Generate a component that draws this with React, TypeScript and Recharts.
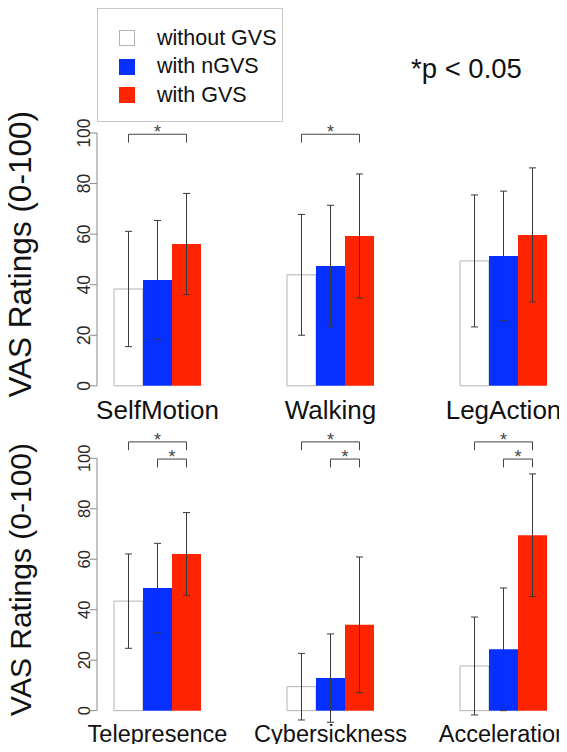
import React from "react";
import { BarChart, Bar, XAxis, YAxis, ErrorBar, Legend } from "recharts";

const FONT = "'Liberation Sans', Arial, Helvetica, sans-serif";

const seriesNames = ["without GVS", "with nGVS", "with GVS"];

// top panel
const topCategories = ["SelfMotion", "Walking", "LegAction"];
const topWithout = [38.3, 43.9, 49.4];
const topWithoutSd = [22.8, 23.9, 26.1];
const topNgvs = [41.9, 47.4, 51.4];
const topNgvsSd = [23.5, 24.0, 25.6];
const topGvs = [56.1, 59.3, 59.7];
const topGvsSd = [20.0, 24.5, 26.5];

// bottom panel
const bottomCategories = ["Telepresence", "Cybersickness", "Acceleration"];
const bottomWithout = [43.4, 9.5, 17.7];
const bottomWithoutSd = [18.7, 13.2, 19.4];
const bottomNgvs = [48.6, 12.9, 24.3];
const bottomNgvsSd = [17.7, 17.5, 24.3];
const bottomGvs = [62.1, 34.0, 69.5];
const bottomGvsSd = [16.4, 26.9, 24.3];

const yTicks = [0, 20, 40, 60, 80, 100];
const yDomain: [number, number] = [-6, 100];

type Bracket = { from: number; to: number; level: number };
// significance brackets per category (bar index 0 = without, 1 = nGVS, 2 = GVS)
const topBrackets: Bracket[][] = [
  [{ from: 0, to: 2, level: 99.5 }],
  [{ from: 0, to: 2, level: 99.5 }],
  [],
];
const bottomBrackets: Bracket[][] = [
  [{ from: 0, to: 2, level: 106.5 }, { from: 1, to: 2, level: 99.7 }],
  [{ from: 0, to: 2, level: 106.5 }, { from: 1, to: 2, level: 99.7 }],
  [{ from: 0, to: 2, level: 106.5 }, { from: 1, to: 2, level: 99.7 }],
];

const buildRows = (
  cats: string[],
  a: number[], aSd: number[],
  b: number[], bSd: number[],
  c: number[], cSd: number[]
) =>
  cats.map((name, i) => ({
    name,
    without: a[i], withoutSd: aSd[i],
    ngvs: b[i], ngvsSd: bSd[i],
    gvs: c[i], gvsSd: cSd[i],
  }));

const topRows = buildRows(topCategories, topWithout, topWithoutSd, topNgvs, topNgvsSd, topGvs, topGvsSd);
const bottomRows = buildRows(bottomCategories, bottomWithout, bottomWithoutSd, bottomNgvs, bottomNgvsSd, bottomGvs, bottomGvsSd);

const BLUE = "#0530ff";
const RED = "#ff2400";
const AXIS = "#8a8a8a";

// brackets are drawn from the GVS bar's own rectangle
const makeBracketLabel = (brackets: Bracket[][], values: number[]) => (props: any) => {
  const vb = props.viewBox && props.viewBox.width != null ? props.viewBox : props;
  const { x, y, width, height } = vb;
  const index = props.index;
  const list = brackets[index] || [];
  if (!list.length || !height) return null;
  const base = y + height;
  const unit = height / values[index];
  const cx = (k: number) => x + width / 2 - (2 - k) * width;
  return (
    <g>
      {list.map((b, j) => {
        const ly = base - b.level * unit;
        const drop = 3.3 * unit;
        const x1 = cx(b.from);
        const x2 = cx(b.to);
        return (
          <g key={j}>
            <path d={`M${x1},${ly + drop}V${ly}H${x2}V${ly + drop}`} fill="none" stroke="#444" strokeWidth={1} />
            <text x={(x1 + x2) / 2} y={ly + 4} textAnchor="middle" fontSize={18} fill="#444" fontFamily={FONT}>
              *
            </text>
          </g>
        );
      })}
    </g>
  );
};

const YTick = (props: any) => {
  const { x, y, payload, fontSize } = props;
  return (
    <text x={x} y={y} transform={`rotate(-90 ${x} ${y})`} textAnchor="middle" fontSize={fontSize} fill="#2a2a2a" fontFamily={FONT}>
      {payload.value}
    </text>
  );
};

const makeTitle = (fontSize: number) => (props: any) => {
  const vb = props.viewBox || {};
  const cy = vb.y + (vb.height * 48) / 106;
  const bx = 31;
  return (
    <text x={bx} y={cy} transform={`rotate(-90 ${bx} ${cy})`} textAnchor="middle" fontSize={fontSize} fill="#111" fontFamily={FONT}>
      VAS Ratings (0-100)
    </text>
  );
};

const LegendBox = (props: any) => {
  const payload = [...(props.payload || [])].sort(
    (a: any, b: any) => seriesNames.indexOf(a.value) - seriesNames.indexOf(b.value)
  );
  return (
    <div
      style={{
        width: 186,
        height: 114,
        boxSizing: "border-box",
        border: "1px solid #c8c8c8",
        paddingTop: 15,
        paddingLeft: 21,
        fontFamily: FONT,
        fontSize: 21.5,
        color: "#111",
        background: "#fff",
      }}
    >
      {payload.map((entry: any) => {
        const stroke = entry.payload && entry.payload.stroke ? entry.payload.stroke : entry.color;
        return (
          <div key={entry.value} style={{ display: "flex", alignItems: "center", height: 28.5 }}>
            <span
              style={{
                display: "inline-block",
                width: 16,
                height: 16,
                boxSizing: "border-box",
                background: entry.color,
                border: `1px solid ${stroke}`,
                marginRight: 22,
              }}
            />
            <span>{entry.value}</span>
          </div>
        );
      })}
    </div>
  );
};

type PanelProps = {
  rows: any[];
  brackets: Bracket[][];
  gvsValues: number[];
  height: number;
  top: number;
  plotHeight: number;
  labelSize: number;
  tickSize: number;
  titleSize: number;
  legend?: boolean;
};

const Panel = ({ rows, brackets, gvsValues, height, top, plotHeight, labelSize, tickSize, titleSize, legend }: PanelProps) => {
  const axisLen = (plotHeight * 100) / 106;
  return (
    <BarChart
      width={567}
      height={height}
      data={rows}
      margin={{ top, right: 0, bottom: 0, left: 0 }}
      barGap={0}
      barCategoryGap={0}
    >
      <XAxis
        dataKey="name"
        type="category"
        padding={{ left: -26, right: -23 }}
        axisLine={false}
        tickLine={false}
        tickSize={0}
        tickMargin={0}
        interval={0}
        height={height - top - plotHeight}
        tick={{ fontSize: labelSize, fill: "#111", fontFamily: FONT }}
      />
      <YAxis
        type="number"
        domain={yDomain}
        ticks={yTicks}
        interval={0}
        width={97}
        axisLine={{ stroke: AXIS, strokeDasharray: `${axisLen} 1000` }}
        tickLine={{ stroke: AXIS }}
        tickSize={7}
        tickMargin={0}
        tick={<YTick fontSize={tickSize} />}
        label={{ content: makeTitle(titleSize) }}
      />
      {legend && (
        <Legend
          layout="vertical"
          align="center"
          verticalAlign="middle"
          wrapperStyle={{ left: 97, top: 8, width: 186, height: 114 }}
          content={(p: any) => <LegendBox {...p} />}
        />
      )}
      <Bar dataKey="without" name={seriesNames[0]} fill="#ffffff" stroke="#b4b4b4" strokeWidth={1} barSize={29} isAnimationActive={false}>
        <ErrorBar dataKey="withoutSd" width={3.5} stroke="#3a3a3a" strokeWidth={1} direction="y" />
      </Bar>
      <Bar dataKey="ngvs" name={seriesNames[1]} fill={BLUE} barSize={29} isAnimationActive={false}>
        <ErrorBar dataKey="ngvsSd" width={3.5} stroke="#3a3a3a" strokeWidth={1} direction="y" />
      </Bar>
      <Bar
        dataKey="gvs"
        name={seriesNames[2]}
        fill={RED}
        barSize={29}
        isAnimationActive={false}
        label={makeBracketLabel(brackets, gvsValues)}
      >
        <ErrorBar dataKey="gvsSd" width={3.5} stroke="#3a3a3a" strokeWidth={1} direction="y" />
      </Bar>
    </BarChart>
  );
};

export default function App() {
  return (
    <div
      style={{
        position: "relative",
        width: 567,
        height: 752,
        margin: -8,
        overflow: "hidden",
        background: "#fff",
        fontFamily: FONT,
      }}
    >
      <div style={{ position: "absolute", left: 0, top: 0 }}>
        <Panel
          rows={topRows}
          brackets={topBrackets}
          gvsValues={topGvs}
          height={430}
          top={133}
          plotHeight={268}
          labelSize={26}
          tickSize={17.5}
          titleSize={31.5}
          legend
        />
      </div>
      <div style={{ position: "absolute", left: 0, top: 420 }}>
        <Panel
          rows={bottomRows}
          brackets={bottomBrackets}
          gvsValues={bottomGvs}
          height={332}
          top={38.3}
          plotHeight={267.5}
          labelSize={23.5}
          tickSize={16.5}
          titleSize={30}
        />
      </div>
      <div
        style={{
          position: "absolute",
          left: 411,
          top: 55,
          fontSize: 27.5,
          lineHeight: "27px",
          color: "#111",
          whiteSpace: "nowrap",
        }}
      >
        *p &lt; 0.05
      </div>
    </div>
  );
}
